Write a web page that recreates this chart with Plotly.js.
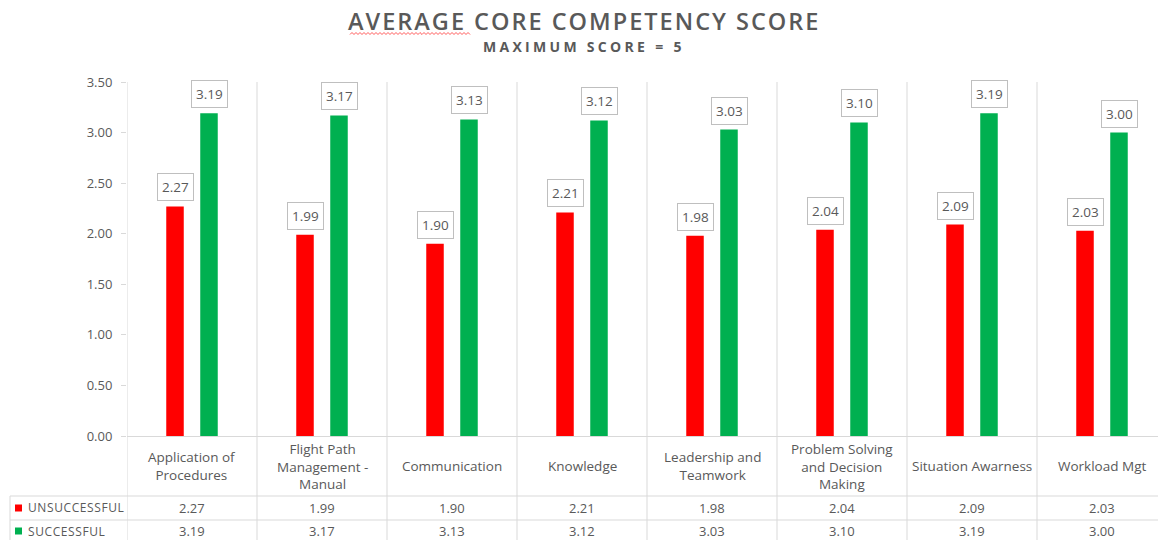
<!DOCTYPE html>
<html>
<head>
<meta charset="utf-8">
<script src="https://cdn.plot.ly/plotly-3.0.1.min.js"></script>
<style>
  html, body { margin: 0; padding: 0; background: #ffffff; }
  #chart { width: 1158px; height: 540px; }
</style>
</head>
<body>
<div id="chart"></div>
<script>
// ---- data ----
const categories = [
  "Application of<br>Procedures",
  "Flight Path<br>Management -<br>Manual",
  "Communication",
  "Knowledge",
  "Leadership and<br>Teamwork",
  "Problem Solving<br>and Decision<br>Making",
  "Situation Awarness",
  "Workload Mgt"
];
const seriesNames = ["UNSUCCESSFUL", "SUCCESSFUL"];
const unsuccessful = [2.27, 1.99, 1.90, 2.21, 1.98, 2.04, 2.09, 2.03];
const successful   = [3.19, 3.17, 3.13, 3.12, 3.03, 3.10, 3.19, 3.00];
const seriesValues = [unsuccessful, successful];
const seriesColors = ["#ff0000", "#00b050"];
const titleText = "AVERAGE CORE COMPETENCY SCORE";
const subtitleText = "MAXIMUM SCORE = 5";

// ---- geometry (pixels) ----
const W = 1158, H = 540;
const L = 127, R = 0, T = 82, B = 104;
const plotW = W - L - R, plotH = H - T - B;
const catPx = 130;
const xMax = -0.5 + plotW / catPx;
const px2x = p => (p - L) / plotW;          // pixel -> paper x
const py2y = p => (H - B - p) / plotH;      // pixel -> paper y

const grey = "#595959";
const lineCol = "#d9d9d9";
const FONT = "Open Sans, sans-serif";
const idx = categories.map((_, i) => i);

const traces = seriesValues.map((vals, s) => ({
  type: "bar",
  name: seriesNames[s],
  x: idx,
  y: vals,
  marker: { color: seriesColors[s], line: { width: 0 } },
  hoverinfo: "skip",
  showlegend: false
}));

const shapes = [];
const annotations = [];

// vertical category separators (through chart and table)
for (let k = 0; k <= categories.length; k++) {
  shapes.push({ type: "line", xref: "x", yref: "paper",
    x0: k - 0.5, x1: k - 0.5, y0: py2y(H + 2), y1: 1,
    line: { color: lineCol, width: 1 }, layer: "below" });
}
// table horizontal lines
[496, 520].forEach(p => {
  shapes.push({ type: "line", xref: "paper", yref: "paper",
    x0: px2x(10), x1: px2x(W + 2), y0: py2y(p), y1: py2y(p),
    line: { color: lineCol, width: 1 } });
});
// table left border
shapes.push({ type: "line", xref: "paper", yref: "paper",
  x0: px2x(10), x1: px2x(10), y0: py2y(496), y1: py2y(H + 2),
  line: { color: lineCol, width: 1 } });

// spell-check squiggle under the first title word (as in the source picture)
(function () {
  let d = "";
  const x0 = 350, x1 = 471, yb = 33.5, step = 2;
  for (let p = x0, n = 0; p <= x1; p += step, n++) {
    const yy = yb + (n % 2 ? -1 : 1);
    d += (n === 0 ? "M" : "L") + px2x(p).toFixed(5) + "," + py2y(yy).toFixed(5);
  }
  shapes.push({ type: "path", xref: "paper", yref: "paper", path: d,
    line: { color: "#ff5a5a", width: 1 } });
})();

// legend keys + row labels
const rowCenters = [508, 531];
seriesNames.forEach((nm, s) => {
  const cy = rowCenters[s];
  shapes.push({ type: "rect", xref: "paper", yref: "paper",
    x0: px2x(15), x1: px2x(22), y0: py2y(cy + 3.5), y1: py2y(cy - 3.5),
    fillcolor: seriesColors[s], line: { width: 0 } });
  annotations.push({ xref: "paper", yref: "paper", x: px2x(26), y: py2y(cy),
    xanchor: "left", yanchor: "middle", showarrow: false,
    text: '<span style="letter-spacing:0.6px">' + nm + '</span>',
    font: { family: FONT, size: 12, color: grey } });
  // table values
  seriesValues[s].forEach((v, i) => {
    annotations.push({ xref: "x", yref: "paper", x: i, y: py2y(cy),
      xanchor: "center", yanchor: "middle", showarrow: false,
      text: v.toFixed(2), font: { family: FONT, size: 13, color: grey } });
  });
});

// category labels in table header row
categories.forEach((c, i) => {
  annotations.push({ xref: "x", yref: "paper", x: i, y: py2y(466),
    xanchor: "center", yanchor: "middle", showarrow: false,
    text: c, align: "center",
    font: { family: FONT, size: 13.5, color: grey } });
});

// data labels (boxed)
const offs = [-17, 17];
seriesValues.forEach((vals, s) => {
  vals.forEach((v, i) => {
    annotations.push({ xref: "x", yref: "y", x: i, y: v,
      xshift: offs[s], yshift: 5,
      xanchor: "center", yanchor: "bottom", showarrow: false,
      text: v.toFixed(2), bgcolor: "#ffffff",
      bordercolor: "#bfbfbf", borderwidth: 1, borderpad: 4,
      font: { family: FONT, size: 13.5, color: grey } });
  });
});

// title and subtitle
annotations.push({ xref: "paper", yref: "paper", x: px2x(584), y: py2y(21),
  xanchor: "center", yanchor: "middle", showarrow: false,
  text: '<span style="letter-spacing:2px">' + titleText + '</span>',
  font: { family: FONT, size: 23.5, color: grey, weight: 600 } });
annotations.push({ xref: "paper", yref: "paper", x: px2x(584), y: py2y(47),
  xanchor: "center", yanchor: "middle", showarrow: false,
  text: '<span style="letter-spacing:3.3px">' + subtitleText + '</span>',
  font: { family: FONT, size: 14, color: grey, weight: 700 } });

const layout = {
  width: W, height: H,
  margin: { l: L, r: R, t: T, b: B, pad: 0 },
  paper_bgcolor: "#ffffff", plot_bgcolor: "#ffffff",
  barmode: "group", bargap: 0.477, bargroupgap: 0.485,
  showlegend: false,
  xaxis: { range: [-0.5, xMax], showticklabels: false, showgrid: false,
    zeroline: false, showline: true, linecolor: lineCol, linewidth: 1,
    ticks: "", fixedrange: true },
  yaxis: { range: [0, 3.5], dtick: 0.5, tick0: 0, tickformat: ".2f",
    showgrid: false, zeroline: false, showline: false,
    ticks: "outside", ticklen: 5, tickcolor: lineCol, tickwidth: 1,
    ticklabelstandoff: 6,
    tickfont: { family: FONT, size: 13, color: grey }, fixedrange: true },
  shapes: shapes,
  annotations: annotations,
  font: { family: FONT, color: grey }
};

Plotly.newPlot("chart", traces, layout, { displayModeBar: false, staticPlot: true });
</script>
</body>
</html>
